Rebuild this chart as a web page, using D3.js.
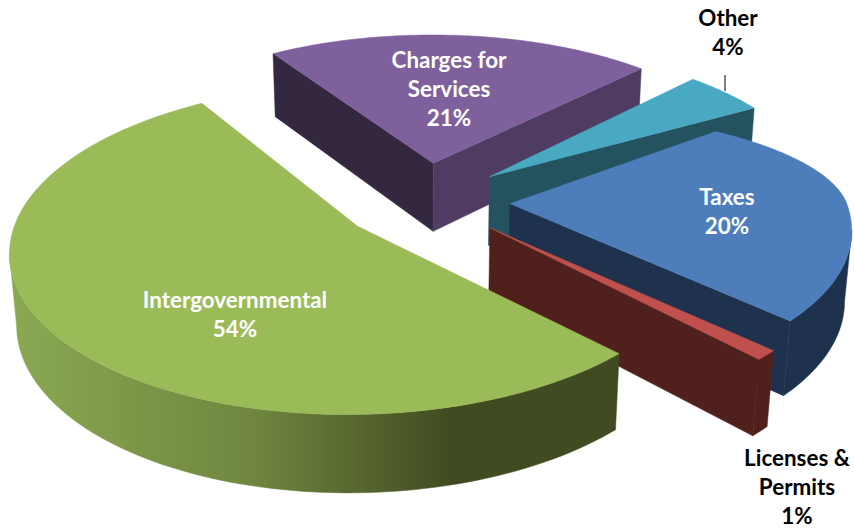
<!DOCTYPE html>
<html>
<head>
<meta charset="utf-8">
<script src="https://cdn.jsdelivr.net/npm/d3@7"></script>
<style>
  html, body { margin: 0; padding: 0; background: #fff; }
  svg { display: block; }
  text { font-family: Lato, "Open Sans", sans-serif; font-weight: 700; font-size: 22.4px; text-anchor: middle; }
</style>
</head>
<body>
<div id="chart"></div>
<script>
// values, in clockwise order from the back of the pie
const categories = ["Charges for Services", "Other", "Taxes", "Licenses & Permits", "Intergovernmental"];
const shares = [21, 4, 20, 1, 54];
const topColors = ["#7e619c", "#49a9c3", "#4d7ebb", "#c0504d", "#9bbb59"];
const startFaceColors = ["#33283f", "#24535f", "#1e324e", "#50201c", "#414b21"];
const endFaceColors = ["#4f3c62", "#24535f", "#1e324e", "#50201c", "#414b21"];
const wallColors = ["#4f3c62", "#24535f", "#1e324e", "#50201c", "url(#greenWall)"];
const labelLines = [["Charges for", "Services", "21%"], ["Other", "4%"], ["Taxes", "20%"], ["Licenses &", "Permits", "1%"], ["Intergovernmental", "54%"]];
const labelColors = ["#fff", "#000", "#fff", "#000", "#fff"];

const width = 854, height = 529;
const config = {
  cx: 425, cy: 201,
  radius: 336, thickness: 80, explode: 85,
  elevation: 27.5 * Math.PI / 180,
  cameraDistance: 2200,
  firstAngle: -32 * Math.PI / 180,
  lineHeight: 29,
};
const labelAnchors = [[449, 68], [728, 26], [727, 205], [797, 466], [235, 308]];
// the original 3D view bends some slice edges a bit, degrees added to each edge
const startBend = [-1, 0.5, -16, 3.2, 1.5];
const endBend = [1, 2.5, 3, 3.2, 0];
// and flattens the far half of the taxes slice
const backSquash = [1, 1, 0.665, 1, 1];

const svg = d3.select("#chart").append("svg").attr("width", width).attr("height", height);

const gradient = svg.append("defs").append("linearGradient")
  .attr("id", "greenWall")
  .attr("gradientUnits", "userSpaceOnUse")
  .attr("x1", 15).attr("x2", 500).attr("y1", 0).attr("y2", 0);
gradient.append("stop").attr("offset", 0).attr("stop-color", "#8aa852");
gradient.append("stop").attr("offset", 0.5).attr("stop-color", "#6f853f");
gradient.append("stop").attr("offset", 0.9).attr("stop-color", "#414b21");
gradient.append("stop").attr("offset", 1).attr("stop-color", "#414b21");

// tilted camera with a little perspective, z is up and y comes towards the viewer
function project(x, y, z) {
  const c = Math.cos(config.elevation), s = Math.sin(config.elevation);
  const toward = y * c + z * s;
  const up = z * c - y * s;
  const k = config.cameraDistance / (config.cameraDistance - toward);
  return [config.cx + x * k, config.cy - up * k];
}

const pie = d3.pie()
  .sort(null)
  .startAngle(config.firstAngle)
  .endAngle(config.firstAngle + 2 * Math.PI);

const outline = d3.line().curve(d3.curveLinear);

const arcs = pie(shares);
const layer = svg.append("g");

arcs.forEach((d, i) => {
  const mid = (d.startAngle + d.endAngle) / 2;
  const ox = Math.sin(mid) * config.explode;
  const oy = -Math.cos(mid) * config.explode;
  const rim = (a, z) => {
    const dy = -Math.cos(a) * config.radius;
    return project(ox + Math.sin(a) * config.radius, oy + (dy < 0 ? dy * backSquash[i] : dy), z);
  };
  const apex = z => project(ox, oy, z);
  const h = -config.thickness;
  const a0 = d.startAngle + startBend[i] * Math.PI / 180;
  const a1 = d.endAngle + endBend[i] * Math.PI / 180;

  const angles = d3.range(0, 121).map(t => a0 + (a1 - a0) * t / 120);
  const topRim = angles.map(a => rim(a, 0));

  const addShape = (points, fill) => {
    layer.append("path")
      .attr("d", outline(points) + "Z")
      .attr("fill", fill)
      .attr("stroke", fill)
      .attr("stroke-width", 0.5);
  };

  // cut faces, only the ones turned to the viewer
  const startFace = [apex(0), rim(a0, 0), rim(a0, h), apex(h)];
  const endFace = [apex(0), rim(a1, 0), rim(a1, h), apex(h)];
  if (d3.polygonArea(startFace) > 0) addShape(startFace, startFaceColors[i]);
  if (d3.polygonArea(endFace) < 0) addShape(endFace, endFaceColors[i]);

  // outer wall, the part of the rim running right to left is on the near side
  const visible = angles.filter((a, j) => j < angles.length - 1 && topRim[j + 1][0] < topRim[j][0]);
  if (visible.length > 1) {
    const last = visible[visible.length - 1] + (a1 - a0) / 120;
    const run = visible.concat([last]);
    addShape(run.map(a => rim(a, 0)).concat(run.slice().reverse().map(a => rim(a, h))), wallColors[i]);
  }

  addShape([apex(0)].concat(topRim), topColors[i]);
});

// leader line of the small slice
svg.append("line")
  .attr("x1", 725).attr("x2", 725)
  .attr("y1", 75).attr("y2", 91)
  .attr("stroke", "#000").attr("stroke-width", 1);

categories.forEach((name, i) => {
  const label = svg.append("text")
    .attr("x", labelAnchors[i][0])
    .attr("y", labelAnchors[i][1])
    .attr("fill", labelColors[i]);
  label.selectAll("tspan")
    .data(labelLines[i])
    .join("tspan")
    .attr("x", labelAnchors[i][0])
    .attr("dy", (t, j) => j === 0 ? 0 : config.lineHeight)
    .text(t => t);
});
</script>
</body>
</html>
